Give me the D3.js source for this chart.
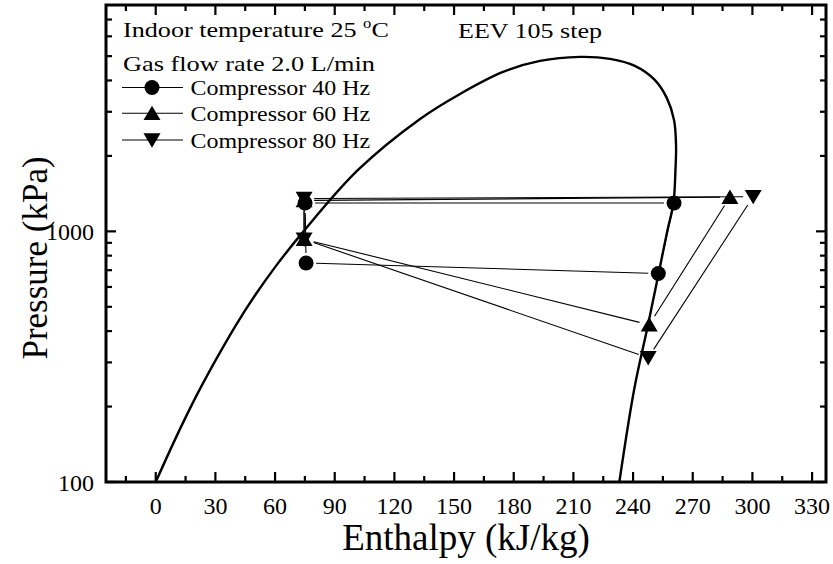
<!DOCTYPE html>
<html>
<head>
<meta charset="utf-8">
<script src="https://cdn.jsdelivr.net/npm/d3@7"></script>
<style>
  html, body { margin: 0; padding: 0; background: #fff; }
</style>
</head>
<body>
<svg id="chart" width="833" height="564" font-family="'Liberation Serif', 'Times New Roman', Times, serif"></svg>
<script>
// Saturation dome (liquid branch up to the critical region, then vapour branch down)
const domeH = [0, 10.1, 20.1, 30.2, 40.2, 50.3, 60.3, 74.3, 101.7, 132.9, 153.0, 174.6, 193.2, 213.3,
               228.4, 240.9, 251.0, 257.0, 260.6, 261.6, 261.3, 260.3, 257.1, 252.8, 247.5, 240.5, 233.1];
const domeP = [100, 150, 218, 307, 421, 561, 725, 1000, 1758, 2809, 3534, 4326, 4786, 4966,
               4876, 4571, 4011, 3400, 2778, 2212, 1751, 1298, 995, 676, 423, 233, 100];

// Cycle state points: condenser outlet, evaporator inlet, evaporator outlet, compressor outlet
const series = ["Compressor 40 Hz", "Compressor 60 Hz", "Compressor 80 Hz"];
const h40 = [75.1, 75.6, 252.7, 260.6];
const p40 = [1297, 748, 679, 1297];
const h60 = [74.6, 74.6, 248.1, 288.7];
const p60 = [1328, 930, 424, 1370];
const h80 = [74.6, 74.6, 247.6, 300.4];
const p80 = [1352, 930, 313, 1375];
const markers = ["circle", "up", "down"];

const xMajor = [0, 30, 60, 90, 120, 150, 180, 210, 240, 270, 300, 330];
const xMinor = [-15, 15, 45, 75, 105, 135, 165, 195, 225, 255, 285, 315];
const yMajor = [100, 1000];
const yMinor = [200, 300, 400, 500, 600, 700, 800, 900, 2000, 3000, 4000, 5000, 6000, 7000];

const svg = d3.select("#chart");
const L = 106, R = 826, T = 5, B = 482;

const x = d3.scaleLinear().domain([-25, 337]).range([L, R]);
const y = d3.scaleLog().domain([100, 8000]).range([B, T]);

// Dome curve
const dome = domeH.map((h, i) => [x(h), y(domeP[i])]);
svg.append("path")
  .attr("d", d3.line().curve(d3.curveCatmullRom.alpha(0.5))(dome))
  .attr("fill", "none").attr("stroke", "#000").attr("stroke-width", 2.4);

// Marker shapes
function markerPath(kind, s) {
  if (kind === "up") return `M0,${-s * 0.9}L${s},${s * 0.8}L${-s},${s * 0.8}Z`;
  if (kind === "down") return `M0,${s * 0.9}L${s},${-s * 0.8}L${-s},${-s * 0.8}Z`;
  return null;
}
function drawMarker(g, kind, cx, cy) {
  if (kind === "circle") {
    g.append("circle").attr("cx", cx).attr("cy", cy).attr("r", 7.5).attr("fill", "#000");
  } else {
    g.append("path").attr("d", markerPath(kind, 8.5))
      .attr("transform", `translate(${cx},${cy})`).attr("fill", "#000");
  }
}

// Cycle lines with a small gap at each symbol
const gap = 10;
const cycles = [[h40, p40], [h60, p60], [h80, p80]];
const gLines = svg.append("g");
const gMarks = svg.append("g");
cycles.forEach(([hs, ps], k) => {
  const pts = hs.map((h, i) => [x(h), y(ps[i])]);
  for (let i = 0; i < pts.length; i++) {
    const a = pts[i], b = pts[(i + 1) % pts.length];
    const dx = b[0] - a[0], dy = b[1] - a[1];
    const len = Math.hypot(dx, dy);
    if (len <= 2 * gap) continue;
    const ux = dx / len, uy = dy / len;
    gLines.append("line")
      .attr("x1", a[0] + ux * gap).attr("y1", a[1] + uy * gap)
      .attr("x2", b[0] - ux * gap).attr("y2", b[1] - uy * gap)
      .attr("stroke", "#000").attr("stroke-width", 1.1);
  }
  pts.forEach(p => drawMarker(gMarks, markers[k], p[0], p[1]));
});

// Frame
svg.append("rect").attr("x", L).attr("y", T).attr("width", R - L).attr("height", B - T)
  .attr("fill", "none").attr("stroke", "#000").attr("stroke-width", 3);

// Ticks (inward on all four sides)
const tk = svg.append("g").attr("stroke", "#000").attr("stroke-width", 2.2);
function xt(v, len) {
  tk.append("line").attr("x1", x(v)).attr("x2", x(v)).attr("y1", B).attr("y2", B - len);
  tk.append("line").attr("x1", x(v)).attr("x2", x(v)).attr("y1", T).attr("y2", T + len);
}
function yt(v, len) {
  tk.append("line").attr("y1", y(v)).attr("y2", y(v)).attr("x1", L).attr("x2", L + len);
  tk.append("line").attr("y1", y(v)).attr("y2", y(v)).attr("x1", R).attr("x2", R - len);
}
xMajor.forEach(v => xt(v, 10));
xMinor.forEach(v => xt(v, 6));
yMajor.forEach(v => yt(v, 10));
yMinor.forEach(v => yt(v, 6));

// Tick labels
svg.append("g").selectAll("text").data(xMajor).join("text")
  .attr("x", d => x(d)).attr("y", 514).attr("text-anchor", "middle")
  .attr("font-size", 24).text(d => d);
svg.append("g").selectAll("text").data(yMajor).join("text")
  .attr("x", 94).attr("y", d => y(d) + 8.5).attr("text-anchor", "end")
  .attr("font-size", 24).text(d => d);

// Axis titles
svg.append("text").attr("x", 466).attr("y", 550).attr("text-anchor", "middle")
  .attr("font-size", 37).text("Enthalpy (kJ/kg)");
svg.append("text").attr("transform", "translate(47,258) rotate(-90)").attr("text-anchor", "middle")
  .attr("font-size", 35).text("Pressure (kPa)");

// Left-anchored label whose glyphs are widened to fill a given width
function wideLabel(x0, y0, width, size, build) {
  const g = svg.append("g");
  const t = g.append("text").attr("font-size", size);
  build(t);
  const w = t.node().getBBox().width;
  g.attr("transform", `translate(${x0},${y0}) scale(${width / w},1)`);
  return g;
}

// Annotations
wideLabel(123, 37, 266, 22, t => {
  t.append("tspan").text("Indoor temperature 25 ");
  t.append("tspan").attr("dy", -9).attr("font-size", 14).text("o");
  t.append("tspan").attr("dy", 9).text("C");
});
wideLabel(458, 38, 144, 22, t => t.text("EEV 105 step"));
wideLabel(123, 71, 252, 22, t => t.text("Gas flow rate 2.0 L/min"));

// Legend
const legY = [87.5, 113.3, 140];
series.forEach((name, i) => {
  svg.append("line").attr("x1", 122).attr("x2", 183).attr("y1", legY[i]).attr("y2", legY[i])
    .attr("stroke", "#000").attr("stroke-width", 1.1);
  drawMarker(svg, markers[i], 152, legY[i]);
  wideLabel(190.5, legY[i] + 7.5, 180, 22, t => t.text(name));
});
</script>
</body>
</html>
